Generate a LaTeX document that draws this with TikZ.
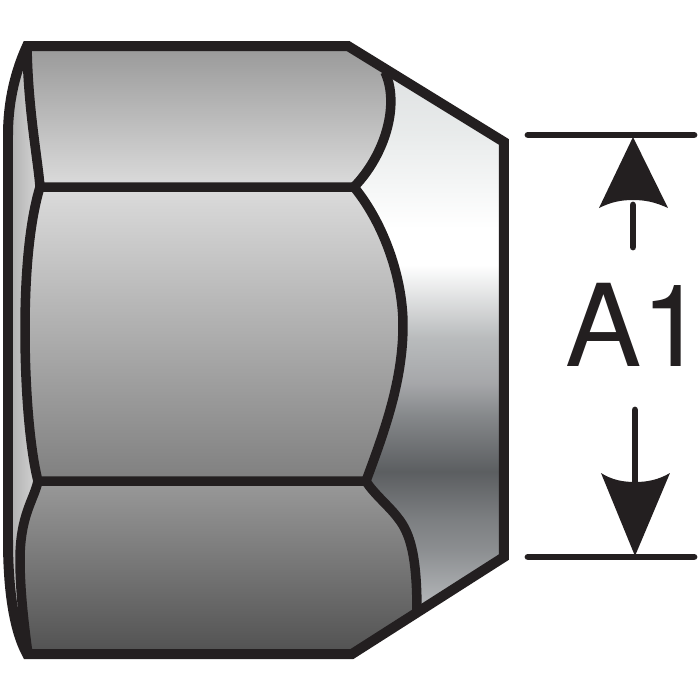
\documentclass[tikz,border=0pt]{standalone}
\usepackage{fontspec}
\newfontfamily\labfont{TeX Gyre Heros}
\definecolor{ink}{HTML}{231F20}
% stops: 25bp = y 654 px, 75bp = y 46 px
\pgfdeclareverticalshading{conegrad}{100bp}{
 rgb(0bp)=(.70,.71,.72);
 rgb(25bp)=(.70,.71,.72);
 rgb(29.2bp)=(.70,.71,.72);
 rgb(33.5bp)=(.55,.56,.57);
 rgb(36bp)=(.49,.50,.51);
 rgb(40bp)=(.36,.37,.38);
 rgb(44.5bp)=(.52,.53,.54);
 rgb(47.3bp)=(.65,.655,.665);
 rgb(51bp)=(.725,.735,.74);
 rgb(57bp)=(1,1,1);
 rgb(60bp)=(1,1,1);
 rgb(68bp)=(.91,.92,.92);
 rgb(75bp)=(.86,.87,.875);
 rgb(100bp)=(.86,.87,.875)}
\tikzset{
 outline/.style={draw=ink,line width=1.0mm,line join=miter,miter limit=10},
 edge line/.style={draw=ink,line width=0.95mm,line join=round},
 dim line/.style={draw=ink,line width=0.68mm,line cap=round},
 head/.style={fill=ink,draw=none},
}
\begin{document}
\begin{tikzpicture}[x=0.1mm,y=-0.1mm]
\useasboundingbox (0,0) rectangle (700,700);
\def\outerpath{(27,46) -- (348,46) -- (504,142) -- (504,557) -- (352,654) -- (27,654) .. controls (14,630) and (8,590) .. (8,540) -- (8,135) .. controls (8,100) and (16,70) .. (27,46) -- cycle}
% cone surface
\begin{scope}
 \clip \outerpath;
 \shade[shading=conegrad] (0,46) rectangle (700,654);
 % left facet
 \shade[left color=gray!65,right color=gray!28] (8,46) rectangle (42,654);
\end{scope}
% faces
\shade[top color=black!40,bottom color=black!14]
 (27,46) -- (348,46) -- (385,72) .. controls (400,105) and (385,155) .. (354,187) -- (40,187)
 .. controls (38,160) and (28,110) .. (27,46) -- cycle;
\shade[top color=black!14,bottom color=black!50]
 (40,187) .. controls (30,220) and (25,270) .. (25,330) .. controls (25,390) and (30,450) .. (38,481)
 -- (366,481) .. controls (385,430) and (403,380) .. (403,325) .. controls (403,280) and (385,225) .. (354,187) -- cycle;
\shade[top color=black!40,bottom color=black!68]
 (38,481) .. controls (34,500) and (20,515) .. (20,560) .. controls (20,590) and (24,625) .. (28,654)
 -- (352,654) -- (417,612) .. controls (417,555) and (410,533) .. (398,518) .. controls (390,507) and (372,492) .. (366,481) -- cycle;
% facet edges
\draw[edge line] (27,46) .. controls (28,110) and (38,160) .. (40,187) -- (354,187);
\draw[edge line] (385,72) .. controls (400,105) and (385,155) .. (354,187);
\draw[edge line] (40,187) .. controls (30,220) and (25,270) .. (25,330) .. controls (25,390) and (30,450) .. (38,481) -- (366,481);
\draw[edge line] (354,187) .. controls (385,225) and (403,280) .. (403,325) .. controls (403,380) and (385,430) .. (366,481);
\draw[edge line] (38,481) .. controls (34,500) and (20,515) .. (20,560) .. controls (20,590) and (24,625) .. (28,654);
\draw[edge line] (366,481) .. controls (372,492) and (390,507) .. (398,518) .. controls (410,533) and (417,555) .. (417,612);
\draw[outline] \outerpath;
% dimension
\coordinate (t1) at (528,135); \coordinate (t2) at (694,135);
\coordinate (b1) at (528,557); \coordinate (b2) at (694,557);
\coordinate (ts) at (633,247); \coordinate (tt) at (633,205);
\coordinate (bs) at (635,410); \coordinate (bt) at (635,490);
\draw[dim line] (t1) -- (t2);
\draw[dim line] (b1) -- (b2);
\draw[dim line] (ts) -- (tt);
\draw[dim line] (bs) -- (bt);
\fill[head] (633,137) -- (668,208) .. controls (655,202) and (645,200) .. (633,200) .. controls (621,200) and (611,202) .. (599,208) -- cycle;
\fill[head] (635,556) -- (670,473) .. controls (658,480) and (647,482) .. (635,482) .. controls (623,482) and (612,480) .. (601,473) -- cycle;
\node[text=ink,font=\labfont\fontsize{32.5pt}{32.5pt}\selectfont,inner sep=0pt,anchor=base] (lab) at (635,366) {A1};
\end{tikzpicture}
\end{document}
